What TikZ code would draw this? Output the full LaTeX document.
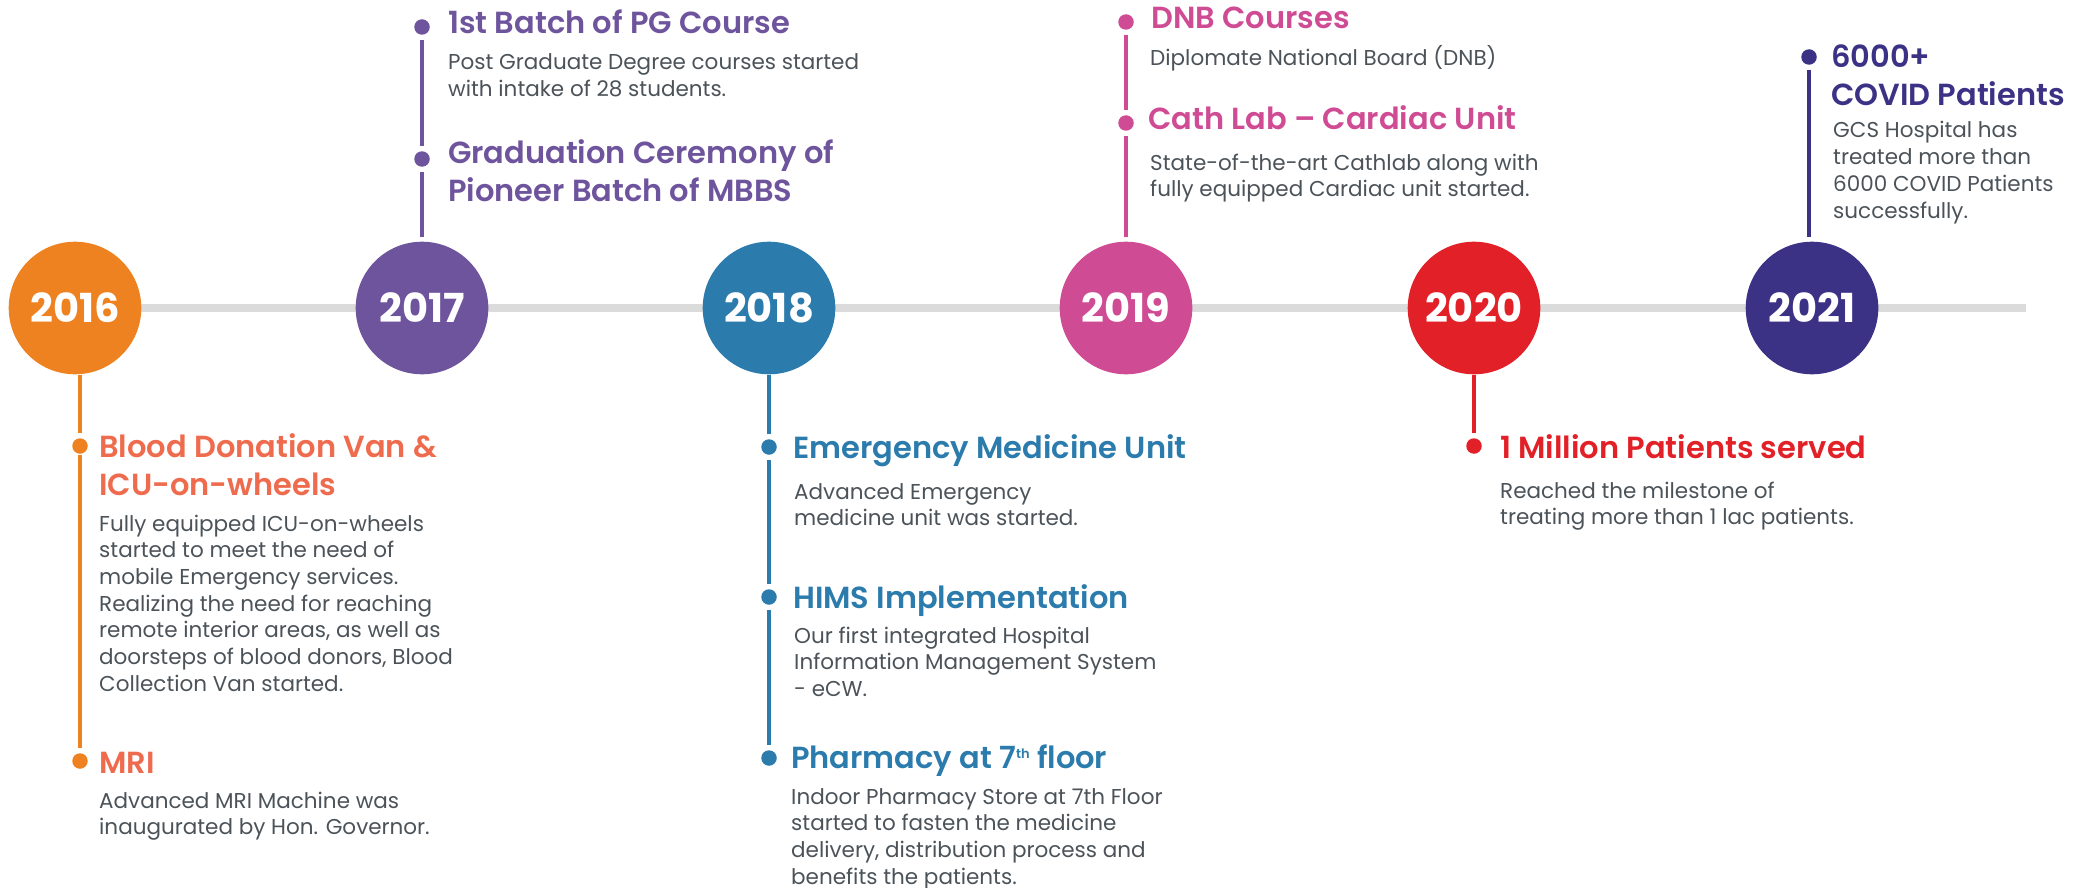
\documentclass[tikz,border=0pt]{standalone}
\usepackage{fontspec}
\setmainfont{Poppins}[BoldFont={* SemiBold}]
\newfontfamily\yearfam{Poppins}
\usetikzlibrary{backgrounds}
\definecolor{c16}{HTML}{EF8220}
\definecolor{t16}{HTML}{EF6B4E}
\definecolor{c17}{HTML}{6E549D}
\definecolor{c18}{HTML}{2B7BAC}
\definecolor{c19}{HTML}{CF4C94}
\definecolor{c20}{HTML}{E22027}
\definecolor{c21}{HTML}{3B3286}
\definecolor{linegray}{HTML}{DADBDA}
\definecolor{bodygray}{HTML}{4B5359}
\newcommand\mlines[1]{\begin{tabular}[t]{@{}l@{}}#1\end{tabular}}
\tikzset{
  yearc/.style={circle, fill=#1, minimum size=132.6pt, inner sep=0pt, text=white,
    font=\yearfam\fontsize{40}{40}\selectfont\bfseries},
  dotn/.style={circle, fill=#1, minimum size=15.5pt, inner sep=0pt},
  stemline/.style={draw=#1, line width=4pt},
  ttl/.style={anchor=base west, inner sep=0pt, text=#1,
    font=\fontsize{30.5}{38}\selectfont\bfseries},
  bdy/.style={anchor=base west, inner sep=0pt, text=bodygray,
    font=\fontsize{21.5}{26.7}\selectfont},
}
\begin{document}
\begin{tikzpicture}[x=1pt,y=-1pt]
\useasboundingbox (0,0) rectangle (2092,888);
% year circles
\node[yearc=c16] (y16) at (75,308) {2016};
\node[yearc=c17] (y17) at (422,308) {2017};
\node[yearc=c18] (y18) at (769,308) {2018};
\node[yearc=c19] (y19) at (1126,308) {2019};
\node[yearc=c20] (y20) at (1474,308) {2020};
\node[yearc=c21] (y21) at (1812,308) {2021};
\coordinate (lend) at (2026,308);
\begin{pgfonlayer}{background}
\draw[linegray, line width=8pt] (y16.center) -- (lend);
\end{pgfonlayer}

% ---- 2016 (below)
\node[dotn=c16] (d16a) at (80,446) {};
\node[dotn=c16] (d16b) at (80,761) {};
\node[ttl=t16] (t16a) at (99,457) {\mlines{Blood Donation Van \&\\ICU-on-wheels}};
\node[bdy] (b16a) at (99,531) {\mlines{Fully equipped ICU-on-wheels\\started to meet the need of\\mobile Emergency services.\\Realizing the need for reaching\\remote interior areas, as well as\\doorsteps of blood donors, Blood\\Collection Van started.}};
\node[ttl=t16] (t16b) at (99,773) {MRI};
\node[bdy] (b16b) at (99,808) {\mlines{Advanced MRI Machine was\\inaugurated by Hon. Governor.}};
\draw[stemline=c16, shorten >=5pt] (y16.south -| d16a) -- (d16a);
\draw[stemline=c16, shorten <=9pt, shorten >=5pt] (d16a.center) -- (d16b);

% ---- 2017 (above)
\node[dotn=c17] (d17a) at (422,27) {};
\node[dotn=c17] (d17b) at (422,159) {};
\node[ttl=c17] (t17a) at (448,34) {1st Batch of PG Course};
\node[bdy] (b17a) at (448,70) {\mlines{Post Graduate Degree courses started\\with intake of 28 students.}};
\node[ttl=c17] (t17b) at (448,163) {\mlines{Graduation Ceremony of\\Pioneer Batch of MBBS}};
\draw[stemline=c17, shorten <=5pt, shorten >=5pt] (d17a) -- (d17b);
\draw[stemline=c17, shorten <=5pt, shorten >=5pt] (d17b) -- (y17.north -| d17b);

% ---- 2018 (below)
\node[dotn=c18] (d18a) at (769,447) {};
\node[dotn=c18] (d18b) at (769,597) {};
\node[dotn=c18] (d18c) at (769,758) {};
\node[ttl=c18] (t18a) at (793,458) {Emergency Medicine Unit};
\node[bdy] (b18a) at (794,499) {\mlines{Advanced Emergency\\medicine unit was started.}};
\node[ttl=c18] (t18b) at (793,608) {HIMS Implementation};
\node[bdy] (b18b) at (794,643) {\mlines{Our first integrated Hospital\\Information Management System\\- eCW.}};
\node[ttl=c18] (t18c) at (791,768) {Pharmacy at 7\raisebox{10pt}{\fontsize{13}{13}\selectfont th} floor};
\node[bdy] (b18c) at (791,804) {\mlines{Indoor Pharmacy Store at 7th Floor\\started to fasten the medicine\\delivery, distribution process and\\benefits the patients.}};
\draw[stemline=c18, shorten >=5pt] (y18.south -| d18a) -- (d18a);
\draw[stemline=c18, shorten <=5pt, shorten >=5pt] (d18a) -- (d18b);
\draw[stemline=c18, shorten <=5pt, shorten >=5pt] (d18b) -- (d18c);

% ---- 2019 (above)
\node[dotn=c19] (d19a) at (1126,22) {};
\node[dotn=c19] (d19b) at (1126,123) {};
\node[ttl=c19] (t19a) at (1151,29) {DNB Courses};
\node[bdy] (b19a) at (1150,66) {Diplomate National Board (DNB)};
\node[ttl=c19] (t19b) at (1148,130) {Cath Lab -- Cardiac Unit};
\node[bdy] (b19b) at (1150,170) {\mlines{State-of-the-art Cathlab along with\\fully equipped Cardiac unit started.}};
\draw[stemline=c19, shorten <=5pt, shorten >=5pt] (d19a) -- (d19b);
\draw[stemline=c19, shorten <=5pt, shorten >=5pt] (d19b) -- (y19.north -| d19b);

% ---- 2020 (below)
\node[dotn=c20] (d20a) at (1474,446) {};
\node[ttl=c20] (t20a) at (1500,458) {1 Million Patients served};
\node[bdy] (b20a) at (1500,498) {\mlines{Reached the milestone of\\treating more than 1 lac patients.}};
\draw[stemline=c20, shorten >=5pt] (y20.south -| d20a) -- (d20a);

% ---- 2021 (above)
\node[dotn=c21] (d21a) at (1809,57) {};
\node[ttl=c21] (t21a) at (1831,68) {\mlines{6000+\\COVID Patients}};
\node[bdy] (b21a) at (1833,138) {\mlines{GCS Hospital has\\treated more than\\6000 COVID Patients\\successfully.}};
\draw[stemline=c21, shorten <=5pt, shorten >=5pt] (d21a) -- (y21.north -| d21a);
\end{tikzpicture}
\end{document}
